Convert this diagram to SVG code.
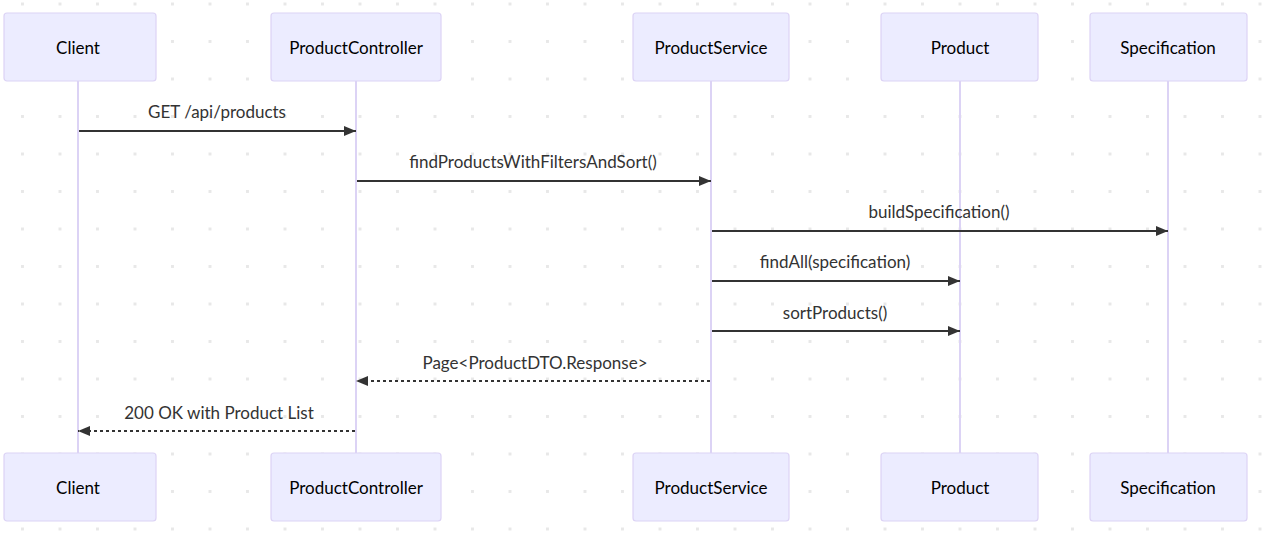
<svg xmlns="http://www.w3.org/2000/svg" width="1271" height="540" viewBox="0 0 1271 540">
  <style>
    .actor rect { fill: #ECECFF; stroke: #DCD3F5; stroke-width: 1.2; }
    .actor text { font-family: "Lato", "Liberation Sans", sans-serif; font-size: 17px; fill: #000; text-anchor: middle; dominant-baseline: central; }
    .lifeline { stroke: #DCD3F5; stroke-width: 2; }
    .msg { stroke: #333; stroke-width: 1.8; fill: none; }
    .dashed { stroke-dasharray: 3 3; }
    .label { font-family: "Lato", "Liberation Sans", sans-serif; font-size: 17px; fill: #333; text-anchor: middle; }
  </style>
  <defs>
    <pattern id="dotgrid" patternUnits="userSpaceOnUse" x="21" y="2.5" width="37.5" height="37.5">
      <rect x="0" y="0" width="3" height="3" fill="#E8E8E8"/>
    </pattern>
    <marker id="arrowhead" viewBox="0 0 12 10" refX="12" refY="5" markerWidth="12" markerHeight="10" markerUnits="userSpaceOnUse" orient="auto">
      <path d="M0,0 L12,5 L0,10 z" fill="#333"/>
    </marker>
  </defs>

  <rect width="1271" height="540" fill="#FFFFFF"/>
  <rect width="1271" height="540" fill="url(#dotgrid)"/>

  <!-- lifelines -->
  <g id="lifelines">
    <line class="lifeline" x1="78" y1="81" x2="78" y2="453"/>
    <line class="lifeline" x1="356" y1="81" x2="356" y2="453"/>
    <line class="lifeline" x1="711" y1="81" x2="711" y2="453"/>
    <line class="lifeline" x1="960" y1="81" x2="960" y2="453"/>
    <line class="lifeline" x1="1168" y1="81" x2="1168" y2="453"/>
  </g>

  <!-- participants, top row -->
  <g id="client-top" class="actor">
    <rect x="4" y="13" width="152" height="68" rx="3"/>
    <text x="78" y="47">Client</text>
  </g>
  <g id="controller-top" class="actor">
    <rect x="271" y="13" width="170" height="68" rx="3"/>
    <text x="356" y="47">ProductController</text>
  </g>
  <g id="service-top" class="actor">
    <rect x="633" y="13" width="156" height="68" rx="3"/>
    <text x="711" y="47">ProductService</text>
  </g>
  <g id="product-top" class="actor">
    <rect x="881" y="13" width="157" height="68" rx="3"/>
    <text x="960" y="47">Product</text>
  </g>
  <g id="specification-top" class="actor">
    <rect x="1090" y="13" width="157" height="68" rx="3"/>
    <text x="1168" y="47">Specification</text>
  </g>

  <!-- participants, bottom row -->
  <g id="client-bottom" class="actor">
    <rect x="4" y="453" width="152" height="68" rx="3"/>
    <text x="78" y="487">Client</text>
  </g>
  <g id="controller-bottom" class="actor">
    <rect x="271" y="453" width="170" height="68" rx="3"/>
    <text x="356" y="487">ProductController</text>
  </g>
  <g id="service-bottom" class="actor">
    <rect x="633" y="453" width="156" height="68" rx="3"/>
    <text x="711" y="487">ProductService</text>
  </g>
  <g id="product-bottom" class="actor">
    <rect x="881" y="453" width="157" height="68" rx="3"/>
    <text x="960" y="487">Product</text>
  </g>
  <g id="specification-bottom" class="actor">
    <rect x="1090" y="453" width="157" height="68" rx="3"/>
    <text x="1168" y="487">Specification</text>
  </g>

  <!-- messages -->
  <g id="messages">
    <text class="label" x="217" y="118">GET /api/products</text>
    <line class="msg" x1="79" y1="131" x2="356" y2="131" marker-end="url(#arrowhead)"/>

    <text class="label" x="533" y="168">findProductsWithFiltersAndSort()</text>
    <line class="msg" x1="357" y1="181" x2="711" y2="181" marker-end="url(#arrowhead)"/>

    <text class="label" x="939" y="218">buildSpecification()</text>
    <line class="msg" x1="712" y1="231" x2="1168" y2="231" marker-end="url(#arrowhead)"/>

    <text class="label" x="835" y="268">findAll(specification)</text>
    <line class="msg" x1="712" y1="281" x2="960" y2="281" marker-end="url(#arrowhead)"/>

    <text class="label" x="835" y="319">sortProducts()</text>
    <line class="msg" x1="712" y1="331" x2="960" y2="331" marker-end="url(#arrowhead)"/>

    <text class="label" x="535" y="369">Page&lt;ProductDTO.Response&gt;</text>
    <line class="msg dashed" x1="710" y1="381" x2="356" y2="381" marker-end="url(#arrowhead)"/>

    <text class="label" x="219" y="419">200 OK with Product List</text>
    <line class="msg dashed" x1="355" y1="431" x2="78" y2="431" marker-end="url(#arrowhead)"/>
  </g>
</svg>
